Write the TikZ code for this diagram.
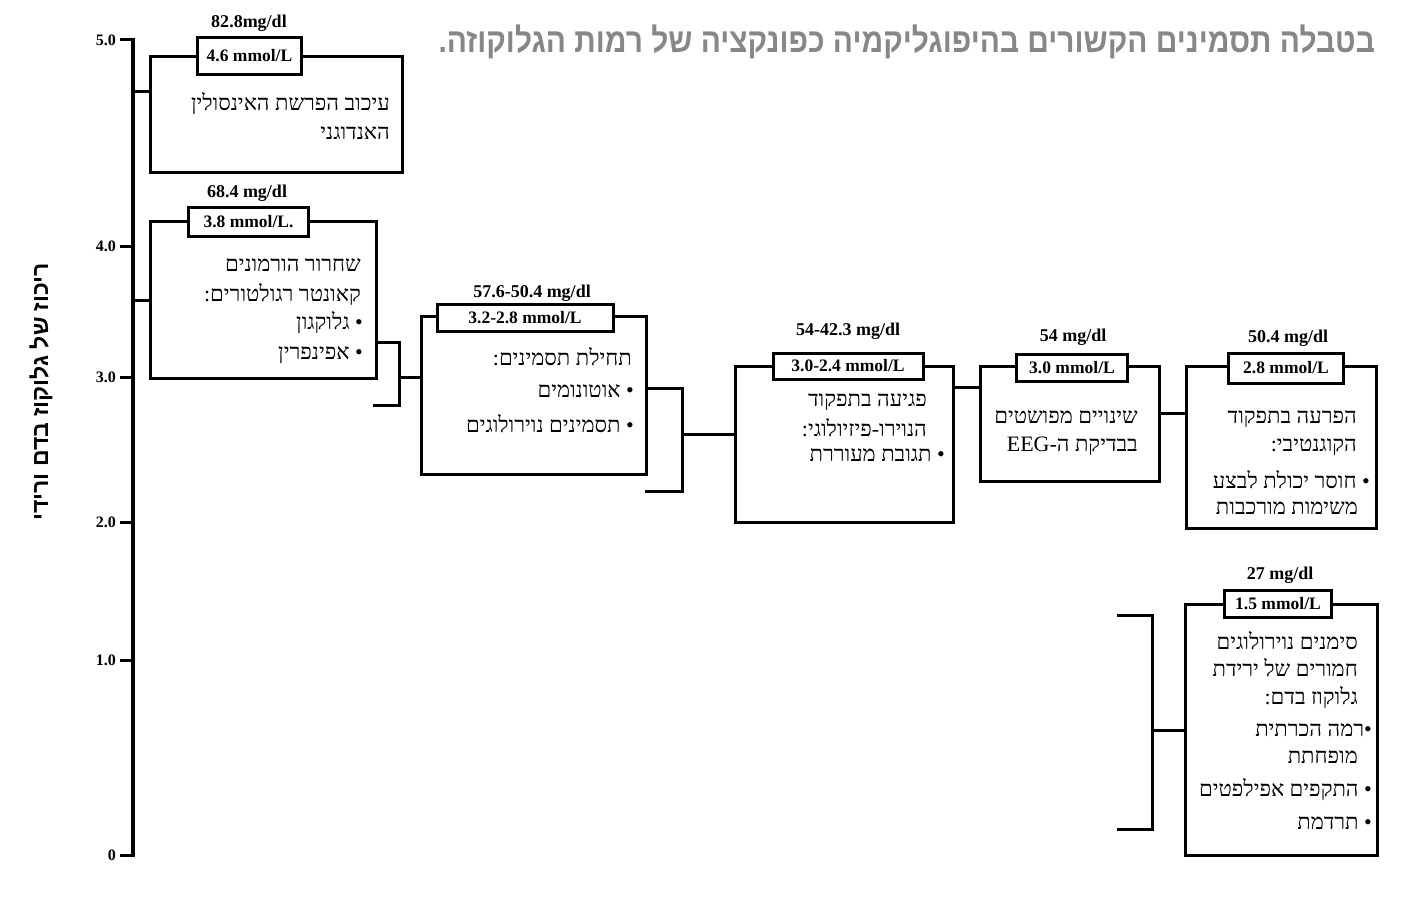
\documentclass[tikz,border=0pt]{standalone}
\usepackage{fontspec}
\setmainfont{Liberation Serif}
\newfontfamily\hebserif[Script=Hebrew]{Liberation Serif}
\newfontfamily\hebsans[Script=Hebrew]{Liberation Sans}
\TeXXeTstate=1
\definecolor{titlegray}{RGB}{135,135,135}
\tikzset{
  frame/.style={draw, line width=3pt, inner sep=0pt, anchor=north west},
  unitbox/.style={draw, line width=3pt, fill=white, inner sep=0pt, font=\bfseries\fontsize{17.5}{20}\selectfont},
  mglabel/.style={font=\bfseries\fontsize{18}{20}\selectfont, inner sep=0pt},
  conn/.style={line width=3pt},
  axisline/.style={line width=4pt},
  hebline/.style={font=\hebserif\fontsize{22}{26}\selectfont, anchor=base east, inner sep=0pt},
  ticklabel/.style={font=\bfseries\fontsize{16}{18}\selectfont, anchor=east, inner sep=0pt},
}
\newcommand{\hebl}[4]{\node[hebline] (#1) at (#2,#3) {#4};}
\begin{document}
\begin{tikzpicture}[x=1pt,y=-1pt]
\fill[white] (0,0) rectangle (1412,899);
\useasboundingbox (0,0) rectangle (1412,899);

% title
\node[font=\hebsans\bfseries\fontsize{34}{38}\selectfont, text=titlegray, anchor=east, inner sep=0pt] (title) at (1375,42) {\scalebox{0.88}[1]{\beginR בטבלה תסמינים הקשורים בהיפוגליקמיה כפונקציה של רמות הגלוקוזה.\endR}};

% vertical axis label
\node[font=\hebsans\bfseries\fontsize{23}{26}\selectfont, rotate=90, inner sep=0pt] (ylabel) at (41,392) {\beginR ריכוז של גלוקוז בדם ורידי\endR};

% axis
\coordinate (atop) at (133,38);
\coordinate (abot) at (133,857);
\draw[axisline] (atop) -- (abot);
\foreach \v/\yy in {5.0/40, 4.0/246, 3.0/377, 2.0/522, 1.0/660, 0/855}{
  \coordinate (t\yy) at (133,\yy);
  \draw[conn] (t\yy) -- ++(-13,0) coordinate (tl\yy);
  \node[ticklabel] (lab\yy) at (116,\yy) {\v};
}

% boxes
\node[frame, minimum width=252pt, minimum height=116pt] (b1) at (149,55) {};
\node[frame, minimum width=226pt, minimum height=157pt] (b2) at (149,220) {};
\node[frame, minimum width=225pt, minimum height=158pt] (b3) at (420,315) {};
\node[frame, minimum width=218pt, minimum height=156pt] (b4) at (734,365) {};
\node[frame, minimum width=179pt, minimum height=115pt] (b5) at (979,365) {};
\node[frame, minimum width=190pt, minimum height=162pt] (b6) at (1185,365) {};
\node[frame, minimum width=192pt, minimum height=251pt] (b7) at (1184,603) {};

% unit boxes
\node[unitbox, minimum width=104pt, minimum height=36pt] (u1) at (249.5,56) {4.6 mmol/L};
\node[unitbox, minimum width=120pt, minimum height=29pt] (u2) at (248.5,222) {3.8 mmol/L.};
\node[unitbox, minimum width=176pt, minimum height=27pt] (u3) at (525,317.5) {3.2-2.8 mmol/L};
\node[unitbox, minimum width=150pt, minimum height=26pt] (u4) at (848,366) {3.0-2.4 mmol/L};
\node[unitbox, minimum width=111pt, minimum height=27pt] (u5) at (1072,368) {3.0 mmol/L};
\node[unitbox, minimum width=115pt, minimum height=30pt] (u6) at (1286,368) {2.8 mmol/L};
\node[unitbox, minimum width=107pt, minimum height=27pt] (u7) at (1278,603.5) {1.5 mmol/L};

% mg/dl labels
\node[mglabel] (m1) at (249,23) {82.8mg/dl};
\node[mglabel] (m2) at (247,193) {68.4 mg/dl};
\node[mglabel] (m3) at (532,293) {57.6-50.4 mg/dl};
\node[mglabel] (m4) at (848,331) {54-42.3 mg/dl};
\node[mglabel] (m5) at (1073,337) {54 mg/dl};
\node[mglabel] (m6) at (1288,338) {50.4 mg/dl};
\node[mglabel] (m7) at (1280,575) {27 mg/dl};

% connectors
\coordinate (c1) at (133,91);
\draw[conn] (c1) -- (c1 -| b1.west);
\coordinate (c2) at (133,300);
\draw[conn] (c2) -- (c2 -| b2.west);
% bracket 2-3
\coordinate (k2t) at (399,342);
\coordinate (k2b) at (399,405);
\coordinate (k2m) at (399,377);
\coordinate (k2e) at (373,405);
\draw[conn] (k2t -| b2.east) -- (k2t) -- (k2b) -- (k2e);
\draw[conn] (k2m) -- (k2m -| b3.west);
% bracket 3-4
\coordinate (k3t) at (682,388);
\coordinate (k3b) at (682,491);
\coordinate (k3m) at (682,434);
\coordinate (k3e) at (645,491);
\draw[conn] (k3t -| b3.east) -- (k3t) -- (k3b) -- (k3e);
\draw[conn] (k3m) -- (k3m -| b4.west);
% 4-5, 5-6
\coordinate (k4) at (952,387);
\draw[conn] (k4 -| b4.east) -- (k4 -| b5.west);
\coordinate (k5) at (1158,413);
\draw[conn] (k5 -| b5.east) -- (k5 -| b6.west);
% bracket 7
\coordinate (k7t) at (1152,615);
\coordinate (k7b) at (1152,829);
\coordinate (k7m) at (1152,730);
\coordinate (k7s) at (1117,615);
\coordinate (k7e) at (1117,829);
\draw[conn] (k7s) -- (k7t) -- (k7b) -- (k7e);
\draw[conn] (k7m) -- (k7m -| b7.west);

% box texts
\hebl{t11}{390}{110}{\beginR עיכוב הפרשת האינסולין\endR}
\hebl{t12}{390}{139}{\beginR האנדוגני\endR}

\hebl{t21}{361}{271}{\beginR שחרור הורמונים\endR}
\hebl{t22}{361}{301}{\beginR קאונטר רגולטורים:\endR}
\hebl{t23}{363}{329}{\beginR • גלוקגון\endR}
\hebl{t24}{363}{359}{\beginR • אפינפרין\endR}

\hebl{t31}{632}{365}{\beginR תחילת תסמינים:\endR}
\hebl{t32}{634}{397}{\beginR • אוטונומים\endR}
\hebl{t33}{634}{432}{\beginR • תסמינים נוירולוגים\endR}

\hebl{t41}{927}{406}{\beginR פגיעה בתפקוד\endR}
\hebl{t42}{927}{436}{\beginR הנוירו-פיזיולוגי:\endR}
\hebl{t43}{945}{461}{\beginR • תגובת מעוררת\endR}

\hebl{t51}{1138}{423}{\beginR שינויים מפושטים\endR}
\hebl{t52}{1138}{451}{\beginR בבדיקת ה-\beginL EEG\endL\endR}

\hebl{t61}{1357}{423}{\beginR הפרעה בתפקוד\endR}
\hebl{t62}{1357}{451}{\beginR הקוגנטיבי:\endR}
\hebl{t63}{1370}{488}{\beginR • חוסר יכולת לבצע\endR}
\hebl{t64}{1358}{514}{\beginR משימות מורכבות\endR}

\hebl{t71}{1358}{649}{\beginR סימנים נוירולוגים\endR}
\hebl{t72}{1358}{676}{\beginR חמורים של ירידת\endR}
\hebl{t73}{1358}{704}{\beginR גלוקוז בדם:\endR}
\hebl{t74}{1372}{736}{\beginR •רמה הכרתית\endR}
\hebl{t75}{1358}{763}{\beginR מופחתת\endR}
\hebl{t76}{1372}{796}{\beginR • התקפים אפילפטים\endR}
\hebl{t77}{1372}{829}{\beginR • תרדמת\endR}
\end{tikzpicture}
\end{document}
